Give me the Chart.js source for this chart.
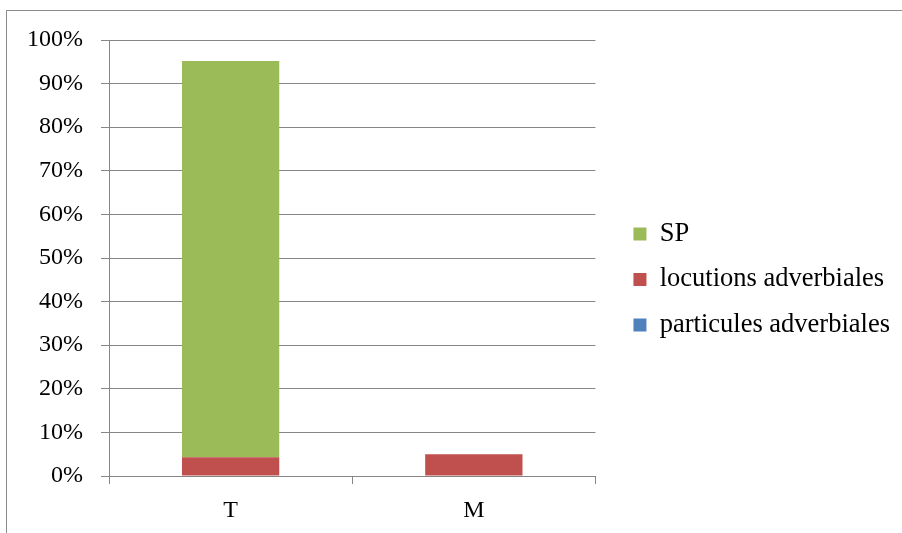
<!DOCTYPE html>
<html>
<head>
<meta charset="utf-8">
<script src="https://cdn.jsdelivr.net/npm/chart.js@4"></script>
<style>
  html, body { margin: 0; padding: 0; background: #fff; overflow: hidden; }
  #wrap { position: relative; width: 902px; height: 533px; }
  #frame { position: absolute; left: 6px; top: 10px; width: 1000px; height: 1000px;
           border: 1.5px solid #8c8c8c; box-sizing: border-box; pointer-events: none; }
  canvas { position: absolute; left: 0; top: 0; }
</style>
</head>
<body>
<div id="wrap">
  <div id="frame"></div>
  <canvas id="myChart" width="902" height="533"></canvas>
</div>
<script>
const categories = ['T', 'M'];
const particules = [0, 0];
const locutions = [4.3, 5.0];
const sp = [90.9, 0];
const yTicks = [0, 10, 20, 30, 40, 50, 60, 70, 80, 90, 100];

const serif = "'Liberation Serif', 'Times New Roman', serif";
const gridGray = '#868686';

// nudge the legend without changing the plot area
const legendShift = {
  id: 'legendShift',
  afterLayout(chart) {
    const lg = chart.legend;
    if (!lg) return;
    lg.left += 19;
    lg.right += 19;
    lg.top -= 7;
    lg.bottom -= 7;
  }
};

new Chart(document.getElementById('myChart'), {
  type: 'bar',
  data: {
    labels: categories,
    datasets: [
      {
        label: 'particules adverbiales',
        data: particules,
        backgroundColor: '#4f81bd'
      },
      {
        label: 'locutions adverbiales',
        data: locutions,
        backgroundColor: '#c0504d'
      },
      {
        label: 'SP',
        data: sp,
        backgroundColor: '#9bbb59'
      }
    ]
  },
  plugins: [legendShift],
  options: {
    responsive: false,
    animation: false,
    barPercentage: 0.4,
    categoryPercentage: 1,
    layout: {
      padding: { top: 40, right: 21, bottom: 0, left: 0 }
    },
    plugins: {
      legend: {
        position: 'right',
        reverse: true,
        maxWidth: 400,
        labels: {
          color: '#000',
          font: { family: serif, size: 26.5 },
          boxWidth: 13,
          boxHeight: 13,
          padding: 19
        }
      },
      tooltip: { enabled: false }
    },
    scales: {
      x: {
        stacked: true,
        afterFit: (scale) => { scale.height = 57; },
        ticks: {
          color: '#000',
          font: { family: serif, size: 24 },
          padding: 12
        },
        grid: {
          drawOnChartArea: false,
          drawTicks: true,
          tickLength: 8,
          color: gridGray
        },
        border: { color: gridGray }
      },
      y: {
        stacked: true,
        min: 0,
        max: 100,
        afterFit: (scale) => { scale.width = 109; },
        afterBuildTicks: (scale) => { scale.ticks = yTicks.map(v => ({ value: v })); },
        ticks: {
          color: '#000',
          font: { family: serif, size: 24 },
          padding: 18,
          callback: (v) => v + '%'
        },
        grid: {
          color: gridGray,
          tickLength: 8
        },
        border: { color: gridGray }
      }
    }
  }
});
</script>
</body>
</html>
